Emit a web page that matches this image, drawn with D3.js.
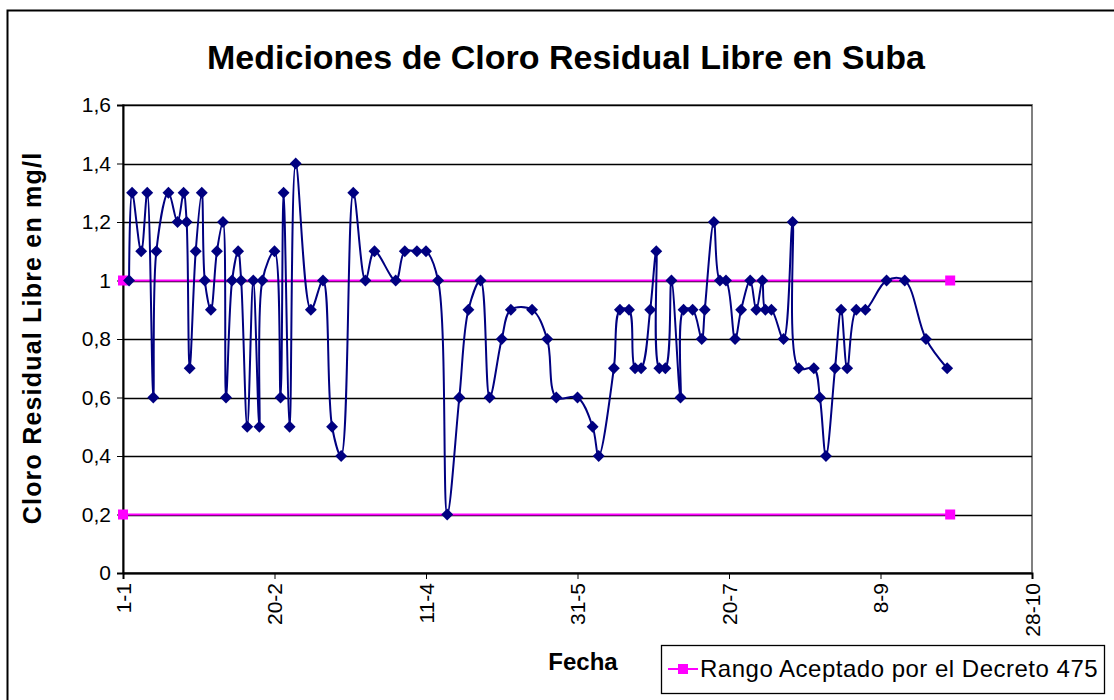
<!DOCTYPE html>
<html>
<head>
<meta charset="utf-8">
<script src="https://cdn.jsdelivr.net/npm/d3@7"></script>
<style>
  body { margin: 0; background: #fff; }
  svg { display: block; font-family: Arial, "Liberation Sans", sans-serif; }
</style>
</head>
<body>
<div id="chart"></div>
<script>
// day offsets from 1-1 and measured chlorine (mg/l)
const dias = [2, 3, 6, 8, 10, 11, 15, 18, 20, 21, 22, 24, 26, 27, 29, 31, 33, 34, 36, 38,
  39, 41, 43, 45, 46, 50, 52, 53, 55, 57, 62, 66, 69, 72, 76, 80, 83, 90, 93, 97,
  100, 104, 107, 111, 114, 118, 121, 125, 128, 135, 140, 143, 150, 155, 157, 162, 164, 167, 169, 171,
  174, 176, 177, 179, 181, 184, 185, 188, 191, 192, 195, 197, 199, 202, 204, 207, 209, 211, 212, 214,
  218, 221, 223, 228, 230, 232, 235, 237, 239, 242, 245, 252, 258, 265, 272];
const cloro = [1.0, 1.3, 1.1, 1.3, 0.6, 1.1, 1.3, 1.2, 1.3, 1.2, 0.7, 1.1, 1.3, 1.0, 0.9, 1.1, 1.2, 0.6, 1.0, 1.1,
  1.0, 0.5, 1.0, 0.5, 1.0, 1.1, 0.6, 1.3, 0.5, 1.4, 0.9, 1.0, 0.5, 0.4, 1.3, 1.0, 1.1, 1.0, 1.1, 1.1,
  1.1, 1.0, 0.2, 0.6, 0.9, 1.0, 0.6, 0.8, 0.9, 0.9, 0.8, 0.6, 0.6, 0.5, 0.4, 0.7, 0.9, 0.9, 0.7, 0.7,
  0.9, 1.1, 0.7, 0.7, 1.0, 0.6, 0.9, 0.9, 0.8, 0.9, 1.2, 1.0, 1.0, 0.8, 0.9, 1.0, 0.9, 1.0, 0.9, 0.9,
  0.8, 1.2, 0.7, 0.7, 0.6, 0.4, 0.7, 0.9, 0.7, 0.9, 0.9, 1.0, 1.0, 0.8, 0.7];

// accepted range (Decreto 475)
const rangoDias = [0, 273];
const rangoMax = [1.0, 1.0];
const rangoMin = [0.2, 0.2];

const yTicks = [0, 0.2, 0.4, 0.6, 0.8, 1.0, 1.2, 1.4, 1.6];
const xTickDias = [0, 50, 100, 150, 200, 250, 300];

const inicio = new Date(2005, 0, 1);
const toDate = (d) => d3.timeDay.offset(inicio, d);

const W = 1114, H = 700;
const margin = { top: 105, right: 82, bottom: 127, left: 123 };
const width = W - margin.left - margin.right;
const height = H - margin.top - margin.bottom;

const svg = d3.select("#chart").append("svg")
  .attr("width", W)
  .attr("height", H);

// outer chart frame
svg.append("rect")
  .attr("x", 7.5).attr("y", 10.5)
  .attr("width", 1200).attr("height", 800)
  .attr("fill", "#fff").attr("stroke", "#000").attr("stroke-width", 2);

svg.append("text")
  .attr("x", 566).attr("y", 69)
  .attr("text-anchor", "middle")
  .attr("font-size", 34).attr("font-weight", "bold")
  .text("Mediciones de Cloro Residual Libre en Suba");

const g = svg.append("g").attr("transform", `translate(${margin.left},${margin.top})`);

const x = d3.scaleTime()
  .domain([toDate(0), toDate(300)])
  .range([0, width]);

const y = d3.scaleLinear()
  .domain([0, 1.6])
  .range([height, 0]);

const fmtY = (v) => d3.format(".1f")(v).replace(".", ",").replace(/,0$/, "");

// plot area border (gray on right)
g.append("rect")
  .attr("x", 0).attr("y", 0)
  .attr("width", width).attr("height", height)
  .attr("fill", "none").attr("stroke", "#808080").attr("stroke-width", 2);

// gridlines
g.append("g")
  .selectAll("line")
  .data(yTicks)
  .enter().append("line")
  .attr("x1", 0).attr("x2", width)
  .attr("y1", (d) => Math.round(y(d)) + 0.5)
  .attr("y2", (d) => Math.round(y(d)) + 0.5)
  .attr("stroke", "#000").attr("stroke-width", 1.3);

// Y axis
const yAxis = g.append("g")
  .call(d3.axisLeft(y).tickValues(yTicks).tickFormat(fmtY).tickSize(6).tickPadding(6));
yAxis.select(".domain").attr("stroke", "#000").attr("stroke-width", 2);
yAxis.selectAll("text").attr("font-size", 21).attr("fill", "#000").attr("font-family", "Arial, Liberation Sans, sans-serif");

// X axis
const xAxis = g.append("g")
  .attr("transform", `translate(0,${height})`)
  .call(d3.axisBottom(x)
    .tickValues(xTickDias.map(toDate))
    .tickFormat(d3.timeFormat("%-d-%-m"))
    .tickSize(6));
xAxis.select(".domain").attr("stroke", "#000").attr("stroke-width", 2);
xAxis.selectAll("text")
  .attr("font-size", 21).attr("fill", "#000").attr("font-family", "Arial, Liberation Sans, sans-serif")
  .attr("transform", "rotate(-90)")
  .attr("dy", "0.35em")
  .attr("x", -10).attr("y", 0)
  .style("text-anchor", "end");

// axis titles
svg.append("text")
  .attr("x", 583).attr("y", 670)
  .attr("text-anchor", "middle")
  .attr("font-size", 24).attr("font-weight", "bold")
  .text("Fecha");

svg.append("text")
  .attr("transform", "translate(41,338) rotate(-90)")
  .attr("text-anchor", "middle")
  .attr("font-size", 25).attr("font-weight", "bold")
  .attr("letter-spacing", 1.2)
  .text("Cloro Residual Libre en mg/l");

// accepted range lines
const rangoLine = d3.line().x((d) => x(toDate(d[0]))).y((d) => y(d[1]));
[rangoMax, rangoMin].forEach((serie) => {
  const pts = rangoDias.map((d, i) => [d, serie[i]]);
  g.append("path")
    .datum(pts)
    .attr("d", rangoLine)
    .attr("fill", "none").attr("stroke", "#FF00FF").attr("stroke-width", 2);
  g.selectAll(null)
    .data(pts)
    .enter().append("rect")
    .attr("x", (d) => x(toDate(d[0])) - 5)
    .attr("y", (d) => y(d[1]) - 5)
    .attr("width", 10).attr("height", 10)
    .attr("fill", "#FF00FF");
});

// measurements
const datos = dias.map((d, i) => ({ fecha: toDate(d), valor: cloro[i] }));
const linea = d3.line()
  .x((d) => x(d.fecha))
  .y((d) => y(d.valor))
  .curve(d3.curveCatmullRom.alpha(0.5));

g.append("path")
  .datum(datos)
  .attr("d", linea)
  .attr("fill", "none").attr("stroke", "#000080").attr("stroke-width", 2);

const diamond = d3.symbol().type(d3.symbolDiamond2).size(90);
g.selectAll(".punto")
  .data(datos)
  .enter().append("path")
  .attr("class", "punto")
  .attr("d", diamond)
  .attr("transform", (d) => `translate(${x(d.fecha)},${y(d.valor)})`)
  .attr("fill", "#000080");

// legend
const leg = svg.append("g").attr("transform", "translate(661,645)");
leg.append("rect")
  .attr("x", 0.5).attr("y", 0.5)
  .attr("width", 443).attr("height", 48)
  .attr("fill", "#fff").attr("stroke", "#000").attr("stroke-width", 1.3);
leg.append("line")
  .attr("x1", 7).attr("x2", 37).attr("y1", 24).attr("y2", 24)
  .attr("stroke", "#FF00FF").attr("stroke-width", 2);
leg.append("rect")
  .attr("x", 17).attr("y", 19).attr("width", 10).attr("height", 10)
  .attr("fill", "#FF00FF");
leg.append("text")
  .attr("x", 39).attr("y", 32)
  .attr("font-size", 24)
  .attr("letter-spacing", 0.5)
  .text("Rango Aceptado por el Decreto 475");
</script>
</body>
</html>
